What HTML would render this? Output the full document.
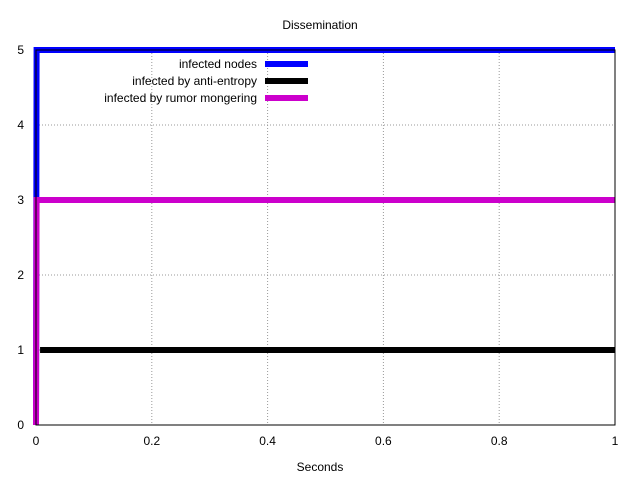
<!DOCTYPE html>
<html><head><meta charset="utf-8"><style>body{margin:0;background:#fff}svg{display:block;font-family:"Liberation Sans",sans-serif}</style></head>
<body>
<svg id="c" width="640" height="480">
<text x="320" y="29" font-size="12" text-anchor="middle">Dissemination</text>
<text x="320" y="471" font-size="12" text-anchor="middle">Seconds</text>
<g id="grid"></g><g id="ticks"></g><g id="series"></g><g id="legend"></g>
<rect x="36" y="50" width="579" height="375" fill="none" stroke="#000" stroke-width="1"/>
</svg>
<script>
const xTicks=[0,0.2,0.4,0.6,0.8,1];
const xTickLabels=["0","0.2","0.4","0.6","0.8","1"];
const yTicks=[0,1,2,3,4,5];
const seriesNames=["infected nodes","infected by anti-entropy","infected by rumor mongering"];
const seriesColors=["#0000ff","#000000","#cc00cc"];
const nodesX=[0,0.001,1];const nodesY=[0,5,5];
const antiX=[0.007,1];const antiY=[1,1];
const rumorX=[0,0.001,1];const rumorY=[0,3,3];
const X0=36,X1=615,Y0=425,Y1=50;
const sx=v=>X0+v*(X1-X0), sy=v=>Y0-v/5*(Y0-Y1);
const NS="http://www.w3.org/2000/svg";
function mk(t,a,p){const e=document.createElementNS(NS,t);for(const k in a)e.setAttribute(k,a[k]);p.appendChild(e);return e;}
const grid=document.getElementById('grid'),ticks=document.getElementById('ticks');
xTicks.forEach((v,i)=>{const x=sx(v);
 if(i>0&&i<xTicks.length-1){const g=mk('line',{x1:x,x2:x,y1:Y1,y2:Y0,stroke:'#999','stroke-dasharray':'1,2'},grid);
 
 }
 const t=mk('text',{x:x,y:Y0+20,'font-size':12,'text-anchor':'middle'},ticks);t.textContent=xTickLabels[i];
 
 });
yTicks.forEach(v=>{const y=sy(v);
 if(v>0&&v<5){const g=mk('line',{x1:X0,x2:X1,y1:y,y2:y,stroke:'#999','stroke-dasharray':'1,2'},grid);
 
 }
 const t=mk('text',{x:24,y:y+4,'font-size':12,'text-anchor':'end'},ticks);t.textContent=v;
 
 });
const ser=document.getElementById('series');
[[nodesX,nodesY],[antiX,antiY],[rumorX,rumorY]].forEach((d,i)=>{
 const pts=d[0].map((x,j)=>sx(x)+','+sy(d[1][j])).join(' ');
 const p=mk('polyline',{points:pts,fill:'none',stroke:seriesColors[i],'stroke-width':6},ser);
 
 });
const lg=document.getElementById('legend');
seriesNames.forEach((n,i)=>{const y=64+i*17;
 const t=mk('text',{x:257,y:y+4,'font-size':12,'text-anchor':'end'},lg);t.textContent=n;
 
 
 const l=mk('line',{x1:265,x2:308,y1:y,y2:y,stroke:seriesColors[i],'stroke-width':6},lg);
 
 });
</script>
</body></html>
